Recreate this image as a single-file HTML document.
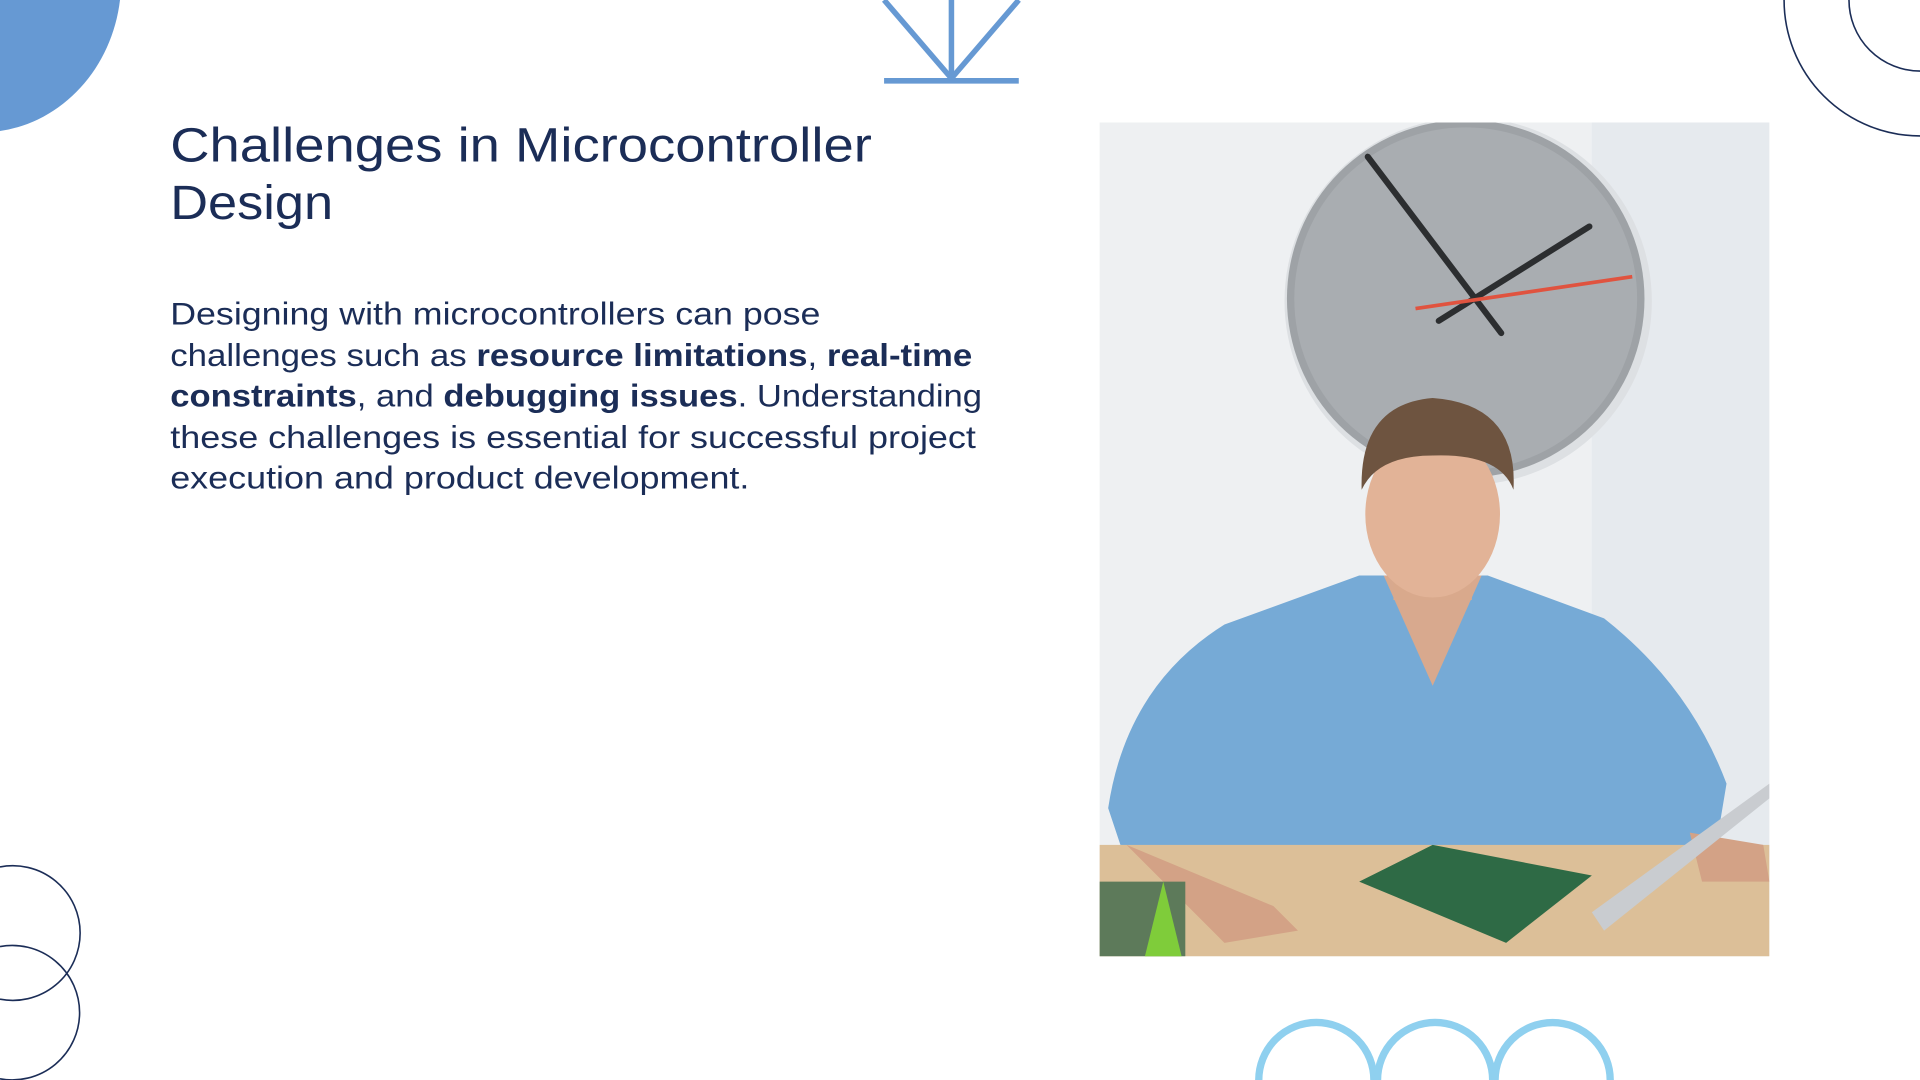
<!DOCTYPE html>
<html><head><meta charset="utf-8"><style>
html,body{margin:0;padding:0;background:#fff;width:1920px;height:1080px;overflow:hidden}
svg{display:block;position:absolute;left:0;top:0;overflow:hidden}
text{font-family:"Liberation Sans",sans-serif;fill:#1b2d57}
</style></head><body>
<svg width="1920" height="1080" viewBox="0 0 1568 882" xmlns="http://www.w3.org/2000/svg">
<defs>
<clipPath id="ph"><rect x="898" y="100" width="547" height="681"/></clipPath>
<clipPath id="pg"><rect x="0" y="0" width="1568" height="882"/></clipPath>
</defs>
<g clip-path="url(#pg)">
<path d="M0 0 H98 A114 124 0 0 1 0 107 Z" fill="#6699d3"/>
<g stroke="#6699d3" stroke-width="4.5" fill="none">
<line x1="722" y1="66" x2="832" y2="66"/>
<line x1="777" y1="0" x2="777" y2="66"/>
<line x1="722" y1="0" x2="777" y2="64"/>
<line x1="832" y1="0" x2="777" y2="64"/>
</g>
<path d="M1457 0 A111 111 0 0 0 1568 111" fill="none" stroke="#1b2d57" stroke-width="1.3"/>
<path d="M1510 0 A58 58 0 0 0 1568 58" fill="none" stroke="#1b2d57" stroke-width="1.3"/>
<path d="M0 708 A55 55 0 1 1 0 816" fill="none" stroke="#1b2d57" stroke-width="1.3"/>
<path d="M0 773 A55 55 0 0 1 65 827 A55 55 0 0 1 0 881" fill="none" stroke="#1b2d57" stroke-width="1.3"/>
<g fill="none" stroke="#8fd0ef" stroke-width="6">
<path d="M1028 882 A47 47 0 0 1 1122 882"/>
<path d="M1125 882 A47 47 0 0 1 1219 882"/>
<path d="M1221 882 A47 47 0 0 1 1315 882"/>
</g>
</g>
<text x="139" y="132" font-size="39" textLength="573" lengthAdjust="spacingAndGlyphs">Challenges in Microcontroller</text>
<text x="139" y="179" font-size="39" textLength="133" lengthAdjust="spacingAndGlyphs">Design</text>
<g font-size="26">
<text x="139" y="265" textLength="531" lengthAdjust="spacingAndGlyphs">Designing with microcontrollers can pose</text>
<text x="139" y="299" textLength="655" lengthAdjust="spacingAndGlyphs">challenges such as <tspan font-weight="bold">resource limitations</tspan>, <tspan font-weight="bold">real-time</tspan></text>
<text x="139" y="332" textLength="663" lengthAdjust="spacingAndGlyphs"><tspan font-weight="bold">constraints</tspan>, and <tspan font-weight="bold">debugging issues</tspan>. Understanding</text>
<text x="139" y="366" textLength="658" lengthAdjust="spacingAndGlyphs">these challenges is essential for successful project</text>
<text x="139" y="399" textLength="473" lengthAdjust="spacingAndGlyphs">execution and product development.</text>
</g>
<g clip-path="url(#ph)">
<rect x="898" y="100" width="547" height="681" fill="#eef0f2"/>
<rect x="1300" y="100" width="145" height="600" fill="#e6eaee"/>
<circle cx="1199" cy="246" r="150" fill="#dde0e3"/>
<circle cx="1197" cy="244" r="146" fill="#9ea2a6"/>
<circle cx="1197" cy="244" r="140" fill="#a9adb1"/>
<g stroke="#2c2e30" stroke-width="5" stroke-linecap="round">
<line x1="1117" y1="128" x2="1226" y2="272"/>
<line x1="1175" y1="262" x2="1298" y2="185"/>
</g>
<line x1="1156" y1="252" x2="1333" y2="226" stroke="#e0533f" stroke-width="3"/>
<path d="M905 660 Q920 560 1000 510 L1110 470 L1215 470 L1310 505 Q1380 560 1410 640 L1400 700 L1040 705 L1020 700 L915 690 Z" fill="#76aad6"/>
<path d="M1130 470 L1170 560 L1210 470 Z" fill="#d8a98e"/>
<rect x="1138" y="420" width="64" height="70" fill="#d9a98c"/>
<ellipse cx="1170" cy="420" rx="55" ry="68" fill="#e2b397"/>
<path d="M1112 400 Q1110 330 1170 325 Q1240 330 1236 400 Q1225 370 1170 372 Q1125 372 1112 400 Z" fill="#6e5440"/>
<rect x="898" y="690" width="547" height="91" fill="#dcbf98"/>
<path d="M920 690 L1040 740 L1060 760 L1000 770 Z" fill="#d3a286"/>
<path d="M1380 680 L1440 690 L1445 720 L1390 720 Z" fill="#d3a286"/>
<path d="M1110 720 L1170 690 L1300 715 L1230 770 Z" fill="#2e6a45"/>
<path d="M1300 745 L1445 640 L1445 652 L1310 760 Z" fill="#c9ccd0"/>
<rect x="898" y="720" width="70" height="61" fill="#5d7a5a"/>
<path d="M935 781 L950 720 L965 781 Z" fill="#7fcc3a"/>
</g>
</svg>
</body></html>
